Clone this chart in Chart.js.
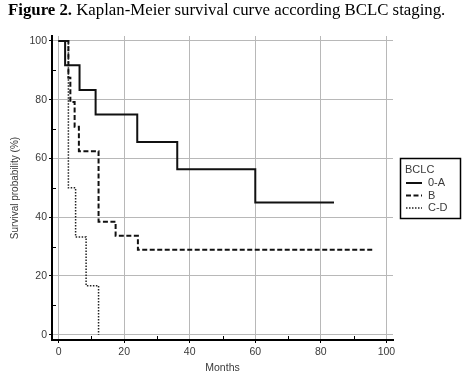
<!DOCTYPE html>
<html>
<head>
<meta charset="utf-8">
<script src="https://cdn.jsdelivr.net/npm/chart.js@4.4.1/dist/chart.umd.min.js"></script>
<style>
  html, body { margin: 0; padding: 0; background: #fff; }
  #wrap { position: relative; width: 470px; height: 375px; overflow: hidden; }
  #title {
    position: absolute; left: 8px; top: 0; line-height: 20px;
    font-family: "Liberation Serif", "Times New Roman", serif; font-size: 16.8px; color: #000;
    white-space: nowrap; z-index: 2;
  }
  #chart { position: absolute; left: 0; top: 0; }
</style>
</head>
<body>
<div id="wrap">
  <div id="title"><b>Figure 2.</b> Kaplan-Meier survival curve according BCLC staging.</div>
  <canvas id="chart" width="470" height="375"></canvas>
</div>
<script>
  // survival steps (months, %)
  const monthsA = [0, 2, 6.4, 11.3, 24, 36.2, 60, 84];
  const survA = [100, 91.7, 83.3, 75, 65.6, 56.3, 45, 45];
  const monthsB = [0, 3, 3.6, 4.9, 6.2, 12.2, 17.4, 24.2, 96];
  const survB = [100, 87.5, 79.2, 70.8, 62.5, 38.5, 33.7, 28.9, 28.9];
  const monthsCD = [0, 3, 5.2, 8.4, 12.2];
  const survCD = [100, 50, 33.3, 16.7, 0];

  const groupLabels = ['0-A', 'B', 'C-D'];
  const legendTitle = 'BCLC';
  const xTicks = [0, 20, 40, 60, 80, 100];
  const yTicks = [0, 20, 40, 60, 80, 100];
  const xMinor = [10, 30, 50, 70, 90];
  const yMinor = [10, 30, 50, 70, 90];

  const toPoints = (xs, ys) => xs.map((x, i) => ({ x, y: ys[i] }));
  const tickFont = { family: '"Liberation Sans", Arial, sans-serif', size: 10.5 };
  const textColor = '#3a3a3a';

  const minorTicks = {
    id: 'minorTicks',
    afterDraw(chart) {
      const { ctx, chartArea, scales } = chart;
      ctx.save();
      ctx.strokeStyle = '#000';
      ctx.lineWidth = 1;
      ctx.beginPath();
      xMinor.forEach(v => {
        const px = Math.round(scales.x.getPixelForValue(v)) + 0.5;
        ctx.moveTo(px, chartArea.bottom);
        ctx.lineTo(px, chartArea.bottom - 4);
      });
      yMinor.forEach(v => {
        const py = Math.round(scales.y.getPixelForValue(v)) + 0.5;
        ctx.moveTo(chartArea.left, py);
        ctx.lineTo(chartArea.left + 4, py);
      });
      ctx.stroke();
      ctx.restore();
    }
  };

  const boxLegend = {
    id: 'boxLegend',
    afterDraw(chart) {
      const { ctx } = chart;
      const x = 400.5, y = 158.5, w = 60, h = 60;
      ctx.save();
      ctx.fillStyle = '#fff';
      ctx.fillRect(x, y, w, h);
      ctx.strokeStyle = '#000';
      ctx.lineWidth = 1.5;
      ctx.strokeRect(x, y, w, h);
      ctx.font = '11px "Liberation Sans", Arial, sans-serif';
      ctx.fillStyle = textColor;
      ctx.textBaseline = 'middle';
      ctx.fillText(legendTitle, 405, 170);
      chart.data.datasets.forEach((ds, i) => {
        const ly = 183 + i * 12.5;
        ctx.strokeStyle = ds.borderColor;
        ctx.lineWidth = ds.borderWidth;
        ctx.setLineDash(ds.borderDash || []);
        ctx.beginPath();
        ctx.moveTo(406, ly);
        ctx.lineTo(422, ly);
        ctx.stroke();
        ctx.setLineDash([]);
        ctx.fillText(ds.label, 428, ly);
      });
      ctx.restore();
    }
  };

  new Chart(document.getElementById('chart'), {
    type: 'line',
    data: {
      datasets: [
        { label: groupLabels[0], data: toPoints(monthsA, survA), borderColor: '#111', borderWidth: 2, borderDash: [] },
        { label: groupLabels[1], data: toPoints(monthsB, survB), borderColor: '#111', borderWidth: 2, borderDash: [5, 2.5] },
        { label: groupLabels[2], data: toPoints(monthsCD, survCD), borderColor: '#222', borderWidth: 1.5, borderDash: [1.5, 1.5] }
      ]
    },
    options: {
      responsive: false,
      animation: false,
      layout: { padding: { left: 0, top: 36, right: 77, bottom: 0 } },
      elements: {
        point: { radius: 0, hoverRadius: 0 },
        line: { stepped: true, tension: 0, fill: false, borderCapStyle: 'butt' }
      },
      plugins: {
        legend: { display: false },
        tooltip: { enabled: false }
      },
      scales: {
        x: {
          type: 'linear',
          min: -2,
          max: 102,
          afterFit(scale) { scale.height = 35; },
          afterBuildTicks(scale) { scale.ticks = xTicks.map(v => ({ value: v })); },
          grid: { color: '#b8b8b8', lineWidth: 1, tickColor: '#000', tickLength: 3, drawTicks: true },
          border: { display: true, color: '#000', width: 2 },
          ticks: { font: tickFont, color: textColor, padding: 3, maxRotation: 0 },
          title: { display: true, text: 'Months', font: tickFont, color: textColor, padding: { top: 0, bottom: 1 } }
        },
        y: {
          type: 'linear',
          min: -1.8,
          max: 101.7,
          afterFit(scale) { scale.width = 52; },
          afterBuildTicks(scale) { scale.ticks = yTicks.map(v => ({ value: v })); },
          grid: { color: '#b8b8b8', lineWidth: 1, tickColor: '#000', tickLength: 3, drawTicks: true },
          border: { display: true, color: '#000', width: 2 },
          ticks: { font: tickFont, color: textColor, padding: 2 },
          title: { display: true, text: 'Survival probability (%)', font: { family: tickFont.family, size: 10 }, color: textColor, padding: { top: 9.5, bottom: 0 } }
        }
      }
    },
    plugins: [minorTicks, boxLegend]
  });
</script>
</body>
</html>
